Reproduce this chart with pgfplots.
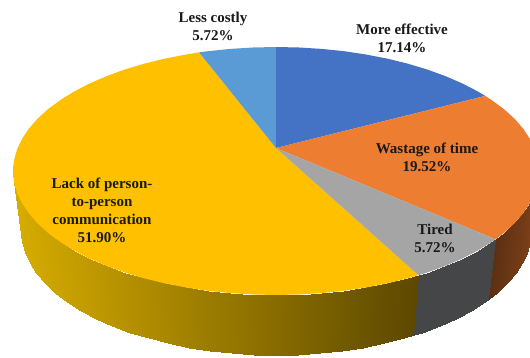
\documentclass[border=0pt]{standalone}
\usepackage{fontspec}
\setmainfont{Liberation Serif}
\usepackage{pgfplots}
\pgfplotsset{compat=1.18}
\definecolor{cBlue}{RGB}{68,114,196}
\definecolor{cOrange}{RGB}{237,125,49}
\definecolor{cGrey}{RGB}{165,165,165}
\definecolor{cYellow}{RGB}{255,192,0}
\definecolor{cSky}{RGB}{91,155,213}
\begin{document}
\begin{tikzpicture}
\path[use as bounding box] (0,0) rectangle (530pt,358pt);
\begin{axis}[
  at={(0,0)}, anchor=south west,
  scale only axis, width=530pt, height=358pt,
  xmin=0, xmax=530, ymin=0, ymax=358, y dir=reverse,
  hide axis, clip=true,
  point meta min=0, point meta max=300,
  colormap={side}{rgb255(0)=(214,172,0) rgb255(100)=(92,72,0)
    rgb255(101)=(68,70,72) rgb255(200)=(68,70,72)
    rgb255(201)=(92,48,18) rgb255(300)=(128,66,26)},
]
% rim of the disc: upper edge first, lower edge second
\addplot[surf, shader=interp, mesh/rows=2, point meta=explicit]
  table[x=x, y=y, meta=m] {
x y m
418.5 275.2 100
407.5 278.4 97.3
387.1 283.4 92.3
365.9 287.5 87.1
344.1 290.8 81.7
321.7 293.1 76.2
298.9 294.5 70.5
276 295 64.9
253.1 294.5 59.2
230.3 293.1 53.6
207.9 290.8 48.1
186.1 287.5 42.7
164.9 283.4 37.5
144.5 278.4 32.4
125.1 272.6 27.7
106.9 266 23.2
90 258.7 19
74.5 250.7 15.2
60.6 242.1 11.7
48.2 233 8.7
37.6 223.4 6.1
28.9 213.4 3.9
22 203.1 2.2
17 192.5 1
14 181.8 0.3
13 171 0
14 160.2 0
414.1 335.2 100
403.5 338.4 97.3
383.7 343.4 92.3
363.2 347.5 87.1
342 350.8 81.7
320.3 353.1 76.2
298.2 354.5 70.5
276 355 64.9
253.8 354.5 59.2
231.7 353.1 53.6
210 350.8 48.1
188.8 347.5 42.7
168.3 343.4 37.5
148.5 338.4 32.4
129.7 332.6 27.7
112 326 23.2
95.7 318.7 19
80.6 310.7 15.2
67.1 302.1 11.7
55.1 293 8.7
44.9 283.4 6.1
36.4 273.4 3.9
29.7 263.1 2.2
24.9 252.5 1
22 241.8 0.3
21 231 0
22 220.2 0
};
\addplot[surf, shader=interp, mesh/rows=2, point meta=explicit]
  table[x=x, y=y, meta=m] {
x y m
495.6 239.3 150
491.4 242.1 150
477.5 250.7 150
462 258.7 150
445.1 266 150
426.9 272.6 150
418.5 275.2 150
488.9 299.3 150
484.9 302.1 150
471.4 310.7 150
456.3 318.7 150
440 326 150
422.3 332.6 150
414.1 335.2 150
};
\addplot[surf, shader=interp, mesh/rows=2, point meta=explicit]
  table[x=x, y=y, meta=m] {
x y m
539 171 300
538 181.8 295
535 192.5 285
530 203.1 272
523.1 213.4 258
514.4 223.4 240
503.8 233 218
495.6 239.3 201
531 231 300
530 241.8 295
527.1 252.5 285
522.3 263.1 272
515.6 273.4 258
507.1 283.4 240
496.9 293 218
488.9 299.3 201
};
% upper face, one closed sector per answer
\addplot[fill=cYellow, draw=none] table {
276 148
418.5 275.2
407.5 278.4
387.1 283.4
365.9 287.5
344.1 290.8
321.7 293.1
298.9 294.5
276 295
253.1 294.5
230.3 293.1
207.9 290.8
186.1 287.5
164.9 283.4
144.5 278.4
125.1 272.6
106.9 266
90 258.7
74.5 250.7
60.6 242.1
48.2 233
37.6 223.4
28.9 213.4
22 203.1
17 192.5
14 181.8
13 171
14 160.2
17 149.5
22 138.9
28.9 128.6
37.6 118.6
48.2 109
60.6 99.9
74.5 91.3
90 83.3
106.9 76
125.1 69.4
144.5 63.6
164.9 58.6
186.1 54.5
199.1 52.4
} -- cycle;
\addplot[fill=cSky, draw=none] table {
276 148
199.1 52.4
207.9 51.2
230.3 48.9
253.1 47.5
276 47
} -- cycle;
\addplot[fill=cBlue, draw=none] table {
276 148
276 47
298.9 47.5
321.7 48.9
344.1 51.2
365.9 54.5
387.1 58.6
407.5 63.6
426.9 69.4
445.1 76
462 83.3
477.5 91.3
485.2 95.9
} -- cycle;
\addplot[fill=cOrange, draw=none] table {
276 148
485.2 95.9
491.4 99.9
503.8 109
514.4 118.6
523.1 128.6
530 138.9
535 149.5
538 160.2
539 171
538 181.8
535 192.5
530 203.1
523.1 213.4
514.4 223.4
503.8 233
495.6 239.3
} -- cycle;
\addplot[fill=cGrey, draw=none] table {
276 148
495.6 239.3
491.4 242.1
477.5 250.7
462 258.7
445.1 266
426.9 272.6
418.5 275.2
} -- cycle;
% data labels
\tikzset{lab/.style={align=center, inner sep=0pt, text=black!90,
  font=\fontsize{15}{18}\selectfont\bfseries}}
\node[lab] at (axis cs:213,26) {Less costly\\5.72\%};
\node[lab] at (axis cs:402,38) {More effective\\17.14\%};
\node[lab] at (axis cs:427,157.5) {Wastage of time\\19.52\%};
\node[lab] at (axis cs:435,238) {Tired\\5.72\%};
\node[lab] at (axis cs:102,210.5) {Lack of person-\\to-person\\communication\\51.90\%};
\end{axis}
\end{tikzpicture}
\end{document}
